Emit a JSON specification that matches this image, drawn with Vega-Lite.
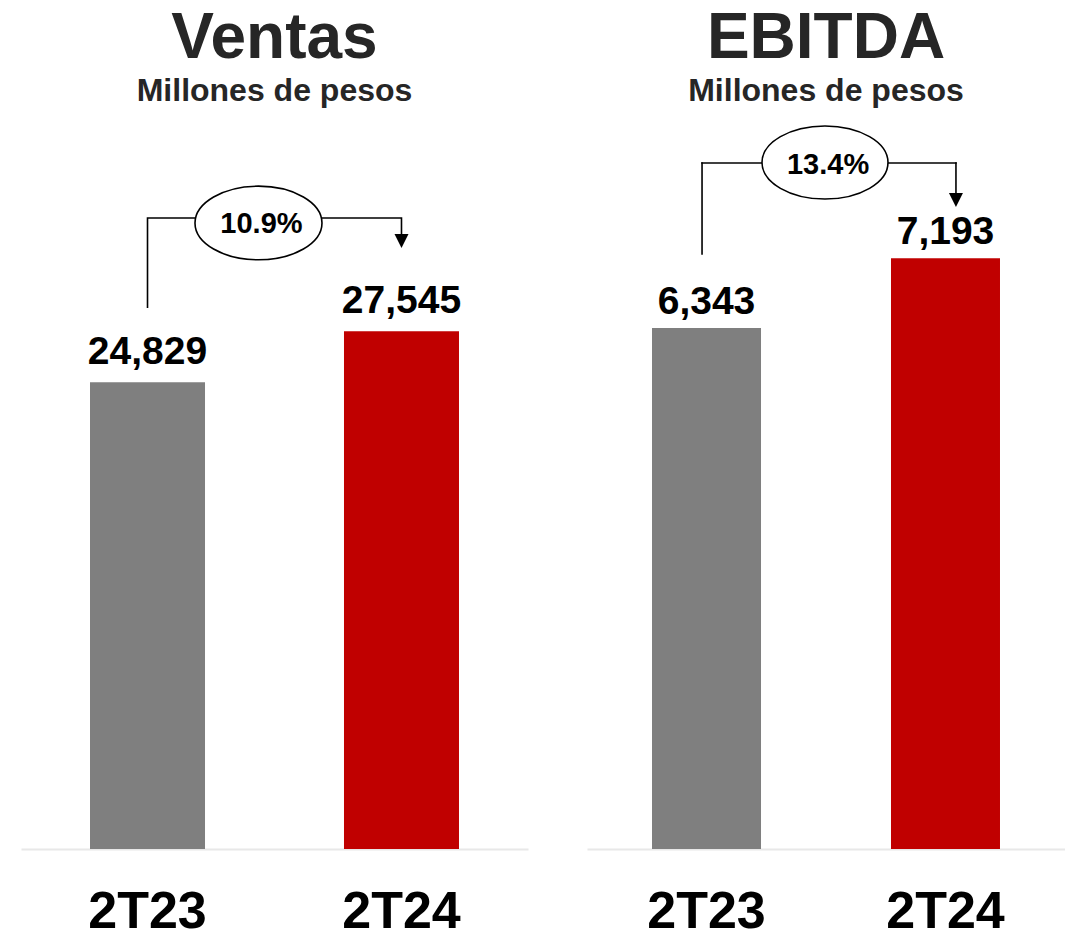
{
  "$schema": "https://vega.github.io/schema/vega-lite/v6.json",
  "background": "white",
  "padding": {"left": 21, "top": 7, "right": 0, "bottom": 0},
  "spacing": 59,
  "bounds": "flush",
  "config": {
    "view": {"stroke": null},
    "font": "Liberation Sans",
    "axisX": {
      "labelFont": "Liberation Sans",
      "labelFontSize": 52,
      "labelFontWeight": "bold",
      "labelColor": "#000000",
      "labelAngle": 0,
      "labelPadding": 37,
      "ticks": false,
      "tickSize": 0,
      "domainColor": "#e8e8e8",
      "domainWidth": 2,
      "grid": false,
      "title": null
    },
    "title": {
      "font": "Liberation Sans",
      "fontSize": 64,
      "fontWeight": "bold",
      "color": "#262626",
      "subtitleFont": "Liberation Sans",
      "subtitleFontSize": 32,
      "subtitleFontWeight": "bold",
      "subtitleColor": "#262626",
      "subtitlePadding": 5,
      "anchor": "middle",
      "frame": "group",
      "offset": 14
    }
  },
  "datasets": {
    "ventas": [
      {"periodo": "2T23", "valor": 24829},
      {"periodo": "2T24", "valor": 27545}
    ],
    "ventas_linea": [
      {"periodo": "2T23", "valor": 28777, "orden": 1},
      {"periodo": "2T23", "valor": 33564, "orden": 2},
      {"periodo": "2T24", "valor": 33564, "orden": 3},
      {"periodo": "2T24", "valor": 32713, "orden": 4}
    ],
    "ventas_punta": [{"periodo": "2T24", "valor": 32340}],
    "ventas_var": [{"periodo": "2T23", "valor": 33298, "centro_texto": 33245, "texto": "10.9%"}],
    "ebitda": [
      {"periodo": "2T23", "valor": 6343},
      {"periodo": "2T24", "valor": 7193}
    ],
    "ebitda_vertical_inicio": [{"periodo": "2T23", "desde": 7244, "hasta": 8352}],
    "ebitda_horizontal": [{"inicio": "2T23", "fin": "2T24", "valor": 8352}],
    "ebitda_vertical_fin": [{"periodo": "2T24", "desde": 8352, "hasta": 7986}],
    "ebitda_punta": [{"periodo": "2T24", "valor": 7901}],
    "ebitda_var": [{"periodo": "2T23", "valor": 8358, "centro_texto": 8327, "texto": "13.4%"}]
  },
  "hconcat": [
    {
      "width": 507,
      "height": 728,
      "title": {"text": "Ventas", "subtitle": "Millones de pesos"},
      "layer": [
        {
          "data": {"name": "ventas"},
          "mark": {"type": "bar"},
          "encoding": {
            "x": {
              "field": "periodo", "type": "nominal", "sort": ["2T23", "2T24"],
              "scale": {"paddingInner": 0.5472, "paddingOuter": 0.2717},
              "axis": {}
            },
            "y": {"field": "valor", "type": "quantitative", "scale": {"domain": [0, 38723], "nice": false, "zero": true}, "axis": null},
            "color": {"field": "periodo", "type": "nominal", "scale": {"domain": ["2T23", "2T24"], "range": ["#7f7f7f", "#c00000"]}, "legend": null}
          }
        },
        {
          "data": {"name": "ventas"},
          "mark": {"type": "text", "fontSize": 39, "fontWeight": "bold", "color": "#000000", "baseline": "alphabetic", "dy": -18},
          "encoding": {
            "x": {"field": "periodo", "type": "nominal"},
            "y": {"field": "valor", "type": "quantitative"},
            "text": {"field": "valor", "type": "quantitative", "format": ","}
          }
        },
        {
          "data": {"name": "ventas_linea"},
          "mark": {"type": "line", "color": "#000000", "strokeWidth": 1.6},
          "encoding": {
            "x": {"field": "periodo", "type": "nominal"},
            "y": {"field": "valor", "type": "quantitative"},
            "order": {"field": "orden", "type": "quantitative"}
          }
        },
        {
          "data": {"name": "ventas_punta"},
          "mark": {"type": "point", "shape": "M -1 -1 L 1 -1 L 0 1 Z", "size": 196, "filled": true, "color": "#000000", "opacity": 1},
          "encoding": {
            "x": {"field": "periodo", "type": "nominal"},
            "y": {"field": "valor", "type": "quantitative"}
          }
        },
        {
          "data": {"name": "ventas_var"},
          "mark": {"type": "point", "shape": "M -1 0 A 1 0.58 0 1 0 1 0 A 1 0.58 0 1 0 -1 0 Z", "size": 16129, "filled": true, "fill": "#ffffff", "stroke": "#000000", "strokeWidth": 1.6, "opacity": 1},
          "encoding": {
            "x": {"field": "periodo", "type": "nominal", "bandPosition": 1.465},
            "y": {"field": "valor", "type": "quantitative"}
          }
        },
        {
          "data": {"name": "ventas_var"},
          "mark": {"type": "text", "fontSize": 29, "fontWeight": "bold", "color": "#000000", "baseline": "middle", "align": "center"},
          "encoding": {
            "x": {"field": "periodo", "type": "nominal", "bandPosition": 1.491},
            "y": {"field": "centro_texto", "type": "quantitative"},
            "text": {"field": "texto", "type": "nominal"}
          }
        }
      ]
    },
    {
      "width": 478,
      "height": 728,
      "title": {"text": "EBITDA", "subtitle": "Millones de pesos"},
      "layer": [
        {
          "data": {"name": "ebitda"},
          "mark": {"type": "bar"},
          "encoding": {
            "x": {
              "field": "periodo", "type": "nominal", "sort": ["2T23", "2T24"],
              "scale": {"paddingInner": 0.5439, "paddingOuter": 0.272},
              "axis": {}
            },
            "y": {"field": "valor", "type": "quantitative", "scale": {"domain": [0, 8863], "nice": false, "zero": true}, "axis": null},
            "color": {"field": "periodo", "type": "nominal", "scale": {"domain": ["2T23", "2T24"], "range": ["#7f7f7f", "#c00000"]}, "legend": null}
          }
        },
        {
          "data": {"name": "ebitda"},
          "mark": {"type": "text", "fontSize": 39, "fontWeight": "bold", "color": "#000000", "baseline": "alphabetic", "dy": -14},
          "encoding": {
            "x": {"field": "periodo", "type": "nominal"},
            "y": {"field": "valor", "type": "quantitative"},
            "text": {"field": "valor", "type": "quantitative", "format": ","}
          }
        },
        {
          "data": {"name": "ebitda_vertical_inicio"},
          "mark": {"type": "rule", "color": "#000000", "strokeWidth": 1.6, "strokeCap": "square"},
          "encoding": {
            "x": {"field": "periodo", "type": "nominal", "bandPosition": 0.459},
            "y": {"field": "desde", "type": "quantitative"},
            "y2": {"field": "hasta"}
          }
        },
        {
          "data": {"name": "ebitda_horizontal"},
          "mark": {"type": "rule", "color": "#000000", "strokeWidth": 1.6, "strokeCap": "square"},
          "encoding": {
            "x": {"field": "inicio", "type": "nominal", "bandPosition": 0.459},
            "x2": {"field": "fin", "bandPosition": 0.596},
            "y": {"field": "valor", "type": "quantitative"}
          }
        },
        {
          "data": {"name": "ebitda_vertical_fin"},
          "mark": {"type": "rule", "color": "#000000", "strokeWidth": 1.6, "strokeCap": "square"},
          "encoding": {
            "x": {"field": "periodo", "type": "nominal", "bandPosition": 0.596},
            "y": {"field": "desde", "type": "quantitative"},
            "y2": {"field": "hasta"}
          }
        },
        {
          "data": {"name": "ebitda_punta"},
          "mark": {"type": "point", "shape": "M -1 -1 L 1 -1 L 0 1 Z", "size": 196, "filled": true, "color": "#000000", "opacity": 1},
          "encoding": {
            "x": {"field": "periodo", "type": "nominal", "bandPosition": 0.596},
            "y": {"field": "valor", "type": "quantitative"}
          }
        },
        {
          "data": {"name": "ebitda_var"},
          "mark": {"type": "point", "shape": "M -1 0 A 1 0.58 0 1 0 1 0 A 1 0.58 0 1 0 -1 0 Z", "size": 15876, "filled": true, "fill": "#ffffff", "stroke": "#000000", "strokeWidth": 1.6, "opacity": 1},
          "encoding": {
            "x": {"field": "periodo", "type": "nominal", "bandPosition": 1.587},
            "y": {"field": "valor", "type": "quantitative"}
          }
        },
        {
          "data": {"name": "ebitda_var"},
          "mark": {"type": "text", "fontSize": 29, "fontWeight": "bold", "color": "#000000", "baseline": "middle", "align": "center"},
          "encoding": {
            "x": {"field": "periodo", "type": "nominal", "bandPosition": 1.615},
            "y": {"field": "centro_texto", "type": "quantitative"},
            "text": {"field": "texto", "type": "nominal"}
          }
        }
      ]
    }
  ]
}
